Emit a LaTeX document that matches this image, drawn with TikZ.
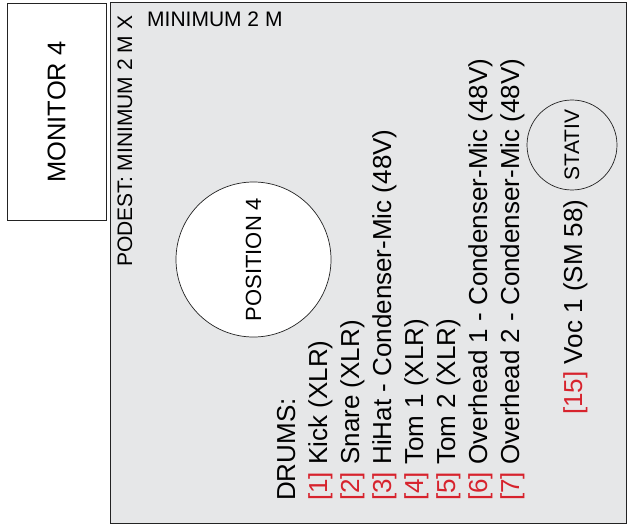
\documentclass[tikz,border=0pt]{standalone}
\usepackage{fontspec}
\setmainfont{Liberation Sans}
\usepackage{xcolor}
\usepackage{tikz}
\usetikzlibrary{shapes.geometric, positioning}
\definecolor{mydark}{RGB}{35,35,35}
\definecolor{myred}{RGB}{215,35,45}
\definecolor{podestgray}{RGB}{230,231,232}
\tikzset{
  monbox/.style={rectangle, draw=mydark, fill=white, line width=1pt,
    rotate=90, minimum width=216pt, minimum height=99pt,
    font=\fontsize{25.5}{30}\selectfont},
  podest/.style={draw=mydark, fill=podestgray, line width=1pt},
  poscircle/.style={circle, draw=mydark, fill=white, line width=0.7pt,
    minimum size=155pt, inner sep=0pt, rotate=90,
    font=\fontsize{22}{26}\selectfont},
  stativ/.style={circle, draw=mydark, line width=0.7pt,
    minimum size=90pt, inner sep=0pt, rotate=90,
    font=\fontsize{21}{25}\selectfont},
  podtext/.style={anchor=base west, inner sep=0pt,
    font=\fontsize{21}{25}\selectfont},
  chtext/.style={rotate=90, anchor=base west, inner sep=0pt,
    font=\fontsize{26}{31}\selectfont},
  chnum/.style={text=myred}
}

\begin{document}
\begin{tikzpicture}[x=1pt, y=-1pt]
  \useasboundingbox (0,0) rectangle (628,529);
  % monitor and podest
  \node[monbox] (monitor) at (56.5,112) {MONITOR 4};
  \draw[podest] (110,3) rectangle (626,523);
  \node[podtext, rotate=90] (podest) at (132,267) {PODEST: MINIMUM 2 M X};
  \node[podtext] (podestw) at (147,27) {MINIMUM 2 M};
  % stage positions
  \node[poscircle] (pos4) at (253.5,259.5) {POSITION 4};
  \node[stativ] (stativ) at (572,145) {STATIV};
  % channel list
  \node[chtext] (drums) at (295,501) {DRUMS:};
  \foreach \n/\lab [count=\i] in {1/Kick (XLR), 2/Snare (XLR),
      3/HiHat - Condenser-Mic (48V), 4/Tom 1 (XLR), 5/Tom 2 (XLR),
      6/Overhead 1 - Condenser-Mic (48V), 7/Overhead 2 - Condenser-Mic (48V)} {
    \node[chtext] (ch\n) at ({295+32*\i},501) {\textcolor{myred}{[\n]} \lab};
  }
  \node[chtext] (ch15) at (582,415) {\textcolor{myred}{[15]} Voc 1 (SM 58)};
\end{tikzpicture}
\end{document}
